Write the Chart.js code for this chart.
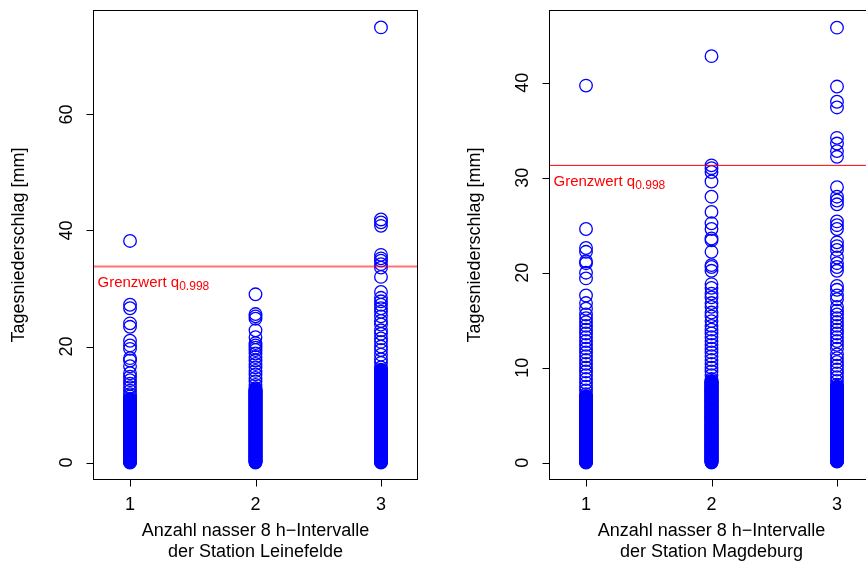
<!DOCTYPE html>
<html><head><meta charset="utf-8">
<script src="https://cdn.jsdelivr.net/npm/chart.js@4/dist/chart.umd.min.js"></script>
<style>
html,body{margin:0;padding:0;width:866px;height:562px;overflow:hidden;background:#fff;}
.w{position:absolute;top:0;width:433px;height:562px;}
#w1{left:0;}
#w2{left:456px;}
</style></head><body>
<div class="w" id="w1"><canvas id="c1" width="433" height="562"></canvas></div>
<div class="w" id="w2"><canvas id="c2" width="433" height="562"></canvas></div>
<script>
// ---- data ----
const categories = [1, 2, 3];
const xTickLabels = ['1', '2', '3'];
const yTicksLeine = [0, 20, 40, 60];
const yTicksMagde = [0, 10, 20, 30, 40];
const thresholdLeine = 33.8;
const thresholdMagde = 31.3;
const xTitleLeine = ['Anzahl nasser 8 h\u2212Intervalle', 'der Station Leinefelde'];
const xTitleMagde = ['Anzahl nasser 8 h\u2212Intervalle', 'der Station Magdeburg'];
const yTitle = 'Tagesniederschlag [mm]';

// Leinefelde, 1 / 2 / 3 nasse Intervalle
const leine1 = [38.2,27.2,26.6,24.0,23.4,21.0,20.2,19.6,18.0,17.6,16.6,15.4,14.8,14.2,13.6,13.0,12.4,11.8,11.4,
  0,0.1,0.2,0.3,0.4,0.5,0.6,0.7,0.8,0.9,1,1.1,1.2,1.3,1.4,1.5,1.6,1.7,1.8,1.9,2,2.1,2.2,2.3,2.4,2.5,2.6,2.7,2.8,2.9,3,3.1,3.2,3.3,3.4,3.5,3.6,3.7,3.8,3.9,4,4.1,4.2,4.3,4.4,4.5,4.6,4.7,4.8,4.9,5,5.1,5.2,5.3,5.4,5.5,5.6,5.7,5.8,5.9,6,6.1,6.2,6.3,6.4,6.5,6.6,6.7,6.8,6.9,7,7.1,7.2,7.3,7.4,7.5,7.6,7.7,7.8,7.9,8,
  8.1,8.2,8.3,8.4,8.5,8.6,8.7,8.8,8.9,9,9.1,9.2,9.3,9.4,9.5,9.6,9.7,9.8,9.9,10,10.1,10.2,10.3,10.4,10.5,10.6,10.7,10.8,10.9,11];
const leine2 = [29.0,25.6,25.2,24.8,22.8,21.6,20.6,20.2,19.8,19.4,18.8,18.2,17.6,17.0,16.4,15.8,15.2,14.6,14.0,13.4,
  0,0.1,0.2,0.3,0.4,0.5,0.6,0.7,0.8,0.9,1,1.1,1.2,1.3,1.4,1.5,1.6,1.7,1.8,1.9,2,2.1,2.2,2.3,2.4,2.5,2.6,2.7,2.8,2.9,3,3.1,3.2,3.3,3.4,3.5,3.6,3.7,3.8,3.9,4,4.1,4.2,4.3,4.4,4.5,4.6,4.7,4.8,4.9,5,5.1,5.2,5.3,5.4,5.5,5.6,5.7,5.8,5.9,6,6.1,6.2,6.3,6.4,6.5,6.6,6.7,6.8,6.9,7,7.1,7.2,7.3,7.4,7.5,7.6,7.7,7.8,7.9,8,
  8.1,8.2,8.3,8.4,8.5,8.6,8.7,8.8,8.9,9,9.1,9.2,9.3,9.4,9.5,9.6,9.7,9.8,9.9,10,10.1,10.2,10.3,10.4,10.5,10.6,10.7,10.8,10.9,11,11.1,11.2,11.3,11.4,11.5,11.6,11.7,11.8,11.9,12,12.1,12.2,12.3,12.4,12.5,12.6,12.8];
const leine3 = [75.0,41.9,41.4,40.8,35.8,35.2,34.8,34.2,33.6,32.0,29.4,28.4,27.8,27.2,26.6,26.0,25.2,24.4,23.8,22.8,22.2,21.4,20.8,20.0,19.4,18.6,17.8,17.2,16.4,
  0,0.1,0.2,0.3,0.4,0.5,0.6,0.7,0.8,0.9,1,1.1,1.2,1.3,1.4,1.5,1.6,1.7,1.8,1.9,2,2.1,2.2,2.3,2.4,2.5,2.6,2.7,2.8,2.9,3,3.1,3.2,3.3,3.4,3.5,3.6,3.7,3.8,3.9,4,4.1,4.2,4.3,4.4,4.5,4.6,4.7,4.8,4.9,5,5.1,5.2,5.3,5.4,5.5,5.6,5.7,5.8,5.9,6,6.1,6.2,6.3,6.4,6.5,6.6,6.7,6.8,6.9,7,7.1,7.2,7.3,7.4,7.5,7.6,7.7,7.8,7.9,8,
  8.1,8.2,8.3,8.4,8.5,8.6,8.7,8.8,8.9,9,9.1,9.2,9.3,9.4,9.5,9.6,9.7,9.8,9.9,10,10.1,10.2,10.3,10.4,10.5,10.6,10.7,10.8,10.9,11,11.1,11.2,11.3,11.4,11.5,11.6,11.7,11.8,11.9,12,12.1,12.2,12.3,12.4,12.5,12.6,12.7,12.8,
  12.9,13,13.1,13.2,13.3,13.4,13.5,13.6,13.7,13.8,13.9,14,14.1,14.2,14.3,14.4,14.5,14.6,14.7,14.8,14.9,15,15.1,15.2,15.3,15.4,15.5,15.6,15.7,15.8,15.9,16];

// Magdeburg, 1 / 2 / 3 nasse Intervalle
const magde1 = [39.7,24.6,22.6,22.2,21.2,21.0,20.0,19.4,17.6,16.8,16.2,15.6,15.2,14.8,14.4,14.0,13.6,13.2,12.8,12.4,12.0,11.6,11.2,10.8,10.4,10.0,9.6,9.2,8.8,8.4,8.0,7.6,7.2,
  0,0.1,0.2,0.3,0.4,0.5,0.6,0.7,0.8,0.9,1,1.1,1.2,1.3,1.4,1.5,1.6,1.7,1.8,1.9,2,2.1,2.2,2.3,2.4,2.5,2.6,2.7,2.8,2.9,3,3.1,3.2,3.3,3.4,3.5,3.6,3.7,3.8,3.9,4,4.1,4.2,4.3,4.4,4.5,4.6,4.7,4.8,4.9,5,5.1,5.2,5.3,5.4,5.5,5.6,5.7,5.8,5.9,6,6.1,6.2,6.3,6.4,6.5,6.6,6.7,6.8,6.9,7,
  0.05,0.15,0.25,0.35,0.45,0.55,0.65,0.75,0.85,0.95,1.05,1.15,1.25,1.35,1.45,1.55,1.65,1.75,1.85,1.95,2.05,2.15,2.25,2.35,2.45,2.55,2.65,2.75,2.85,2.95,3.05,3.15,3.25,3.35,3.45,3.55,3.65,3.75,3.85,3.95,4.05,4.15,4.25,4.35,4.45,4.55,4.65,4.75,4.85,4.95,5.05,5.15,5.25,5.35,5.45,5.55,5.65,5.75,5.85,5.95,6.05,6.15,6.25,6.35,6.45,6.55,6.65,6.75,6.85,6.95];
const magde2 = [42.8,31.3,31.0,30.6,29.6,28.0,26.4,25.2,24.6,23.6,23.4,22.2,20.8,20.6,20.2,18.8,18.4,17.8,17.4,16.8,16.4,15.8,15.4,14.9,14.4,14.0,13.6,13.2,12.8,12.4,12.0,11.6,11.2,10.8,10.4,10.0,9.6,9.2,8.8,
  0,0.1,0.2,0.3,0.4,0.5,0.6,0.7,0.8,0.9,1,1.1,1.2,1.3,1.4,1.5,1.6,1.7,1.8,1.9,2,2.1,2.2,2.3,2.4,2.5,2.6,2.7,2.8,2.9,3,3.1,3.2,3.3,3.4,3.5,3.6,3.7,3.8,3.9,4,4.1,4.2,4.3,4.4,4.5,4.6,4.7,4.8,4.9,5,5.1,5.2,5.3,5.4,5.5,5.6,5.7,5.8,5.9,6,6.1,6.2,6.3,6.4,6.5,6.6,6.7,6.8,6.9,7,7.1,7.2,7.3,7.4,7.5,7.6,7.7,7.8,7.9,8,8.1,8.2,8.3,8.4,8.5,8.6,
  0.05,0.15,0.25,0.35,0.45,0.55,0.65,0.75,0.85,0.95,1.05,1.15,1.25,1.35,1.45,1.55,1.65,1.75,1.85,1.95,2.05,2.15,2.25,2.35,2.45,2.55,2.65,2.75,2.85,2.95,3.05,3.15,3.25,3.35,3.45,3.55,3.65,3.75,3.85,3.95,4.05,4.15,4.25,4.35,4.45,4.55,4.65,4.75,4.85,4.95,5.05,5.15,5.25,5.35,5.45,5.55,5.65,5.75,5.85,5.95,6.05,6.15,6.25,6.35,6.45,6.55,6.65,6.75,6.85,6.95,7.05,7.15,7.25,7.35,7.45,7.55,7.65,7.75,7.85,7.95,8.05,8.15,8.25,8.35,8.45,8.55];
const magde3 = [45.8,39.6,38.0,37.4,34.2,33.6,32.8,32.2,29.0,28.0,27.6,27.2,25.4,25.0,24.6,23.2,22.8,22.4,21.6,21.0,20.6,20.2,18.6,18.2,17.6,17.2,16.4,16.0,15.6,15.2,14.8,14.4,14.0,13.6,13.2,12.8,12.4,12.0,11.4,11.0,10.6,10.2,9.8,9.4,9.0,8.6,8.2,
  0.1,0.2,0.3,0.4,0.5,0.6,0.7,0.8,0.9,1,1.1,1.2,1.3,1.4,1.5,1.6,1.7,1.8,1.9,2,2.1,2.2,2.3,2.4,2.5,2.6,2.7,2.8,2.9,3,3.1,3.2,3.3,3.4,3.5,3.6,3.7,3.8,3.9,4,4.1,4.2,4.3,4.4,4.5,4.6,4.7,4.8,4.9,5,5.1,5.2,5.3,5.4,5.5,5.6,5.7,5.8,5.9,6,6.1,6.2,6.3,6.4,6.5,6.6,6.7,6.8,6.9,7,7.1,7.2,7.3,7.4,7.5,7.6,7.7,7.8,7.9,8,
  0.15,0.25,0.35,0.45,0.55,0.65,0.75,0.85,0.95,1.05,1.15,1.25,1.35,1.45,1.55,1.65,1.75,1.85,1.95,2.05,2.15,2.25,2.35,2.45,2.55,2.65,2.75,2.85,2.95,3.05,3.15,3.25,3.35,3.45,3.55,3.65,3.75,3.85,3.95,4.05,4.15,4.25,4.35,4.45,4.55,4.65,4.75,4.85,4.95,5.05,5.15,5.25,5.35,5.45,5.55,5.65,5.75,5.85,5.95,6.05,6.15,6.25,6.35,6.45,6.55,6.65,6.75,6.85,6.95,7.05,7.15,7.25,7.35,7.45,7.55,7.65,7.75,7.85,7.95];

// ---- drawing ----
const FONT = "'Liberation Sans', Arial, Helvetica, sans-serif";

function makeDataset(cols) {
  const pts = [];
  cols.forEach((arr, i) => arr.forEach(v => pts.push({x: categories[i], y: v})));
  return {
    data: pts,
    pointStyle: 'circle',
    pointRadius: 6.3,
    pointHoverRadius: 6.3,
    borderColor: '#0000ff',
    backgroundColor: 'rgba(0,0,0,0)',
    borderWidth: 1.3,
    showLine: false
  };
}

function rPlugin(cfg) {
  return {
    id: 'rstyle',
    afterDraw(chart) {
      const ctx = chart.ctx;
      const a = chart.chartArea;
      const xs = chart.scales.x, ys = chart.scales.y;
      ctx.save();
      // threshold line
      const ly = ys.getPixelForValue(cfg.threshold);
      ctx.strokeStyle = cfg.lineColor;
      ctx.lineWidth = cfg.lineWidth;
      ctx.beginPath();
      ctx.moveTo(a.left, ly);
      ctx.lineTo(a.right, ly);
      ctx.stroke();
      // label
      ctx.fillStyle = '#ff0000';
      ctx.textAlign = 'left';
      ctx.textBaseline = 'alphabetic';
      ctx.font = '15px ' + FONT;
      const base = ly + 21;
      const tx = a.left + 4.5;
      ctx.fillText('Grenzwert q', tx, base);
      const w = ctx.measureText('Grenzwert q').width;
      ctx.font = '12px ' + FONT;
      ctx.fillText('0.998', tx + w, base + 3);
      // box
      ctx.strokeStyle = '#000';
      ctx.lineWidth = 1;
      const L = Math.round(a.left) + 0.5, R = Math.round(a.right) - 0.5;
      const T = Math.round(a.top) + 0.5, B = Math.round(a.bottom) - 0.5;
      ctx.strokeRect(L, T, R - L, B - T);
      // ticks
      ctx.beginPath();
      cfg.yTicks.forEach(v => {
        const p = Math.round(ys.getPixelForValue(v)) + 0.5;
        ctx.moveTo(L - 7, p); ctx.lineTo(L, p);
      });
      categories.forEach(v => {
        const p = Math.round(xs.getPixelForValue(v)) + 0.5;
        ctx.moveTo(p, B); ctx.lineTo(p, B + 7);
      });
      ctx.stroke();
      // tick labels
      ctx.fillStyle = '#000';
      ctx.font = '18px ' + FONT;
      ctx.textAlign = 'center';
      ctx.textBaseline = 'middle';
      categories.forEach((v, i) => {
        ctx.fillText(xTickLabels[i], xs.getPixelForValue(v), a.bottom + 25);
      });
      cfg.yTicks.forEach(v => {
        ctx.save();
        ctx.translate(a.left - 26, ys.getPixelForValue(v));
        ctx.rotate(-Math.PI / 2);
        ctx.fillText(String(v), 0, 0);
        ctx.restore();
      });
      // axis titles
      const cx = (a.left + a.right) / 2;
      ctx.fillText(cfg.xTitle[0], cx, 531);
      ctx.fillText(cfg.xTitle[1], cx, 552);
      ctx.save();
      ctx.translate(a.left - 74, (a.top + a.bottom) / 2);
      ctx.rotate(-Math.PI / 2);
      ctx.fillText(yTitle, 0, 0);
      ctx.restore();
      ctx.restore();
    }
  };
}

function makeChart(id, cols, yMin, yMax, cfg) {
  return new Chart(document.getElementById(id), {
    type: 'scatter',
    data: { datasets: [makeDataset(cols)] },
    options: {
      responsive: false,
      animation: false,
      devicePixelRatio: 1,
      layout: { padding: { left: 93, right: 15, top: 10, bottom: 82 } },
      scales: {
        x: { type: 'linear', min: 0.705, max: 3.295, display: false },
        y: { type: 'linear', min: yMin, max: yMax, display: false }
      },
      plugins: { legend: { display: false }, tooltip: { enabled: false } },
      events: []
    },
    plugins: [rPlugin(cfg)]
  });
}

makeChart('c1', [leine1, leine2, leine3], -3, 78, {
  threshold: thresholdLeine, lineColor: 'rgba(255,0,0,0.55)', lineWidth: 2,
  yTicks: yTicksLeine, xTitle: xTitleLeine
});
makeChart('c2', [magde1, magde2, magde3], -1.83, 47.66, {
  threshold: thresholdMagde, lineColor: '#ff0000', lineWidth: 1,
  yTicks: yTicksMagde, xTitle: xTitleMagde
});
</script>
</body></html>
